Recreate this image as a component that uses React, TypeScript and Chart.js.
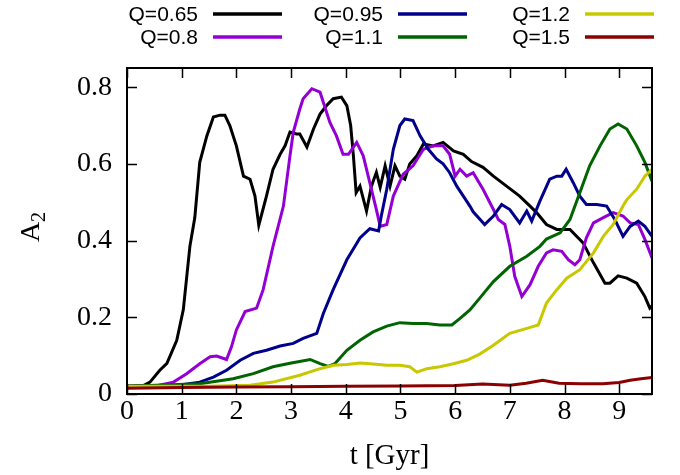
import { useEffect, useRef } from 'react';
import { Chart, registerables } from 'chart.js';

Chart.register(...registerables);

// ---- data (time in Gyr, amplitude A2) ----
const tQ065 = [0, 0.3, 0.42, 0.6, 0.73, 0.91, 1.03, 1.15, 1.24, 1.33, 1.46, 1.58, 1.7, 1.79, 1.88, 2.0, 2.13, 2.25, 2.34, 2.41, 2.55, 2.67, 2.8, 2.89, 2.98, 3.1, 3.16, 3.29, 3.41, 3.53, 3.65, 3.77, 3.92, 4.02, 4.09, 4.14, 4.19, 4.26, 4.38, 4.47, 4.56, 4.63, 4.72, 4.81, 4.9, 4.99, 5.08, 5.17, 5.3, 5.42, 5.6, 5.78, 5.97, 6.15, 6.3, 6.51, 6.7, 6.94, 7.18, 7.37, 7.49, 7.67, 7.86, 8.1, 8.34, 8.53, 8.74, 8.83, 8.98, 9.14, 9.32, 9.47, 9.56, 9.6];
const aQ065 = [0.02, 0.022, 0.031, 0.062, 0.08, 0.14, 0.22, 0.385, 0.46, 0.604, 0.673, 0.722, 0.727, 0.727, 0.7, 0.647, 0.568, 0.56, 0.516, 0.44, 0.516, 0.586, 0.625, 0.647, 0.683, 0.678, 0.678, 0.644, 0.691, 0.73, 0.752, 0.77, 0.774, 0.752, 0.7, 0.621, 0.525, 0.542, 0.477, 0.542, 0.578, 0.539, 0.595, 0.542, 0.595, 0.568, 0.56, 0.6, 0.621, 0.652, 0.647, 0.656, 0.634, 0.625, 0.606, 0.591, 0.568, 0.542, 0.516, 0.49, 0.473, 0.442, 0.429, 0.429, 0.394, 0.342, 0.289, 0.289, 0.308, 0.302, 0.289, 0.254, 0.224, 0.23];

const tQ08 = [0, 0.5, 0.85, 1.09, 1.33, 1.52, 1.64, 1.82, 1.91, 2.0, 2.16, 2.37, 2.49, 2.67, 2.86, 2.98, 3.04, 3.16, 3.22, 3.38, 3.53, 3.71, 3.83, 3.95, 4.05, 4.2, 4.32, 4.44, 4.56, 4.63, 4.75, 4.87, 5.05, 5.23, 5.42, 5.6, 5.78, 5.9, 6.0, 6.09, 6.21, 6.33, 6.51, 6.7, 6.79, 6.91, 7.0, 7.09, 7.22, 7.37, 7.52, 7.67, 7.79, 7.95, 8.07, 8.19, 8.28, 8.4, 8.53, 8.71, 8.89, 9.07, 9.2, 9.35, 9.47, 9.6];
const aQ08 = [0.02, 0.02, 0.031, 0.053, 0.079, 0.097, 0.099, 0.09, 0.123, 0.167, 0.215, 0.224, 0.272, 0.385, 0.49, 0.621, 0.682, 0.743, 0.77, 0.796, 0.787, 0.708, 0.673, 0.625, 0.625, 0.656, 0.621, 0.551, 0.481, 0.437, 0.442, 0.516, 0.573, 0.595, 0.638, 0.647, 0.647, 0.625, 0.568, 0.586, 0.568, 0.577, 0.534, 0.481, 0.455, 0.442, 0.385, 0.307, 0.254, 0.285, 0.333, 0.368, 0.376, 0.372, 0.35, 0.337, 0.35, 0.407, 0.446, 0.46, 0.473, 0.464, 0.446, 0.442, 0.403, 0.355];

const tQ095 = [0, 0.9, 1.33, 1.58, 1.82, 2.07, 2.31, 2.55, 2.8, 3.04, 3.22, 3.47, 3.59, 3.77, 4.02, 4.26, 4.44, 4.6, 4.65, 4.75, 4.87, 4.99, 5.08, 5.23, 5.36, 5.51, 5.66, 5.78, 5.9, 6.03, 6.15, 6.27, 6.33, 6.54, 6.7, 6.85, 7.0, 7.18, 7.31, 7.4, 7.55, 7.73, 7.86, 7.95, 8.03, 8.16, 8.28, 8.4, 8.59, 8.77, 8.92, 9.07, 9.2, 9.35, 9.47, 9.6];
const aQ095 = [0.02, 0.022, 0.031, 0.044, 0.062, 0.088, 0.106, 0.114, 0.125, 0.132, 0.145, 0.158, 0.21, 0.272, 0.35, 0.407, 0.431, 0.425, 0.464, 0.534, 0.638, 0.7, 0.717, 0.713, 0.673, 0.638, 0.613, 0.6, 0.577, 0.542, 0.516, 0.49, 0.475, 0.442, 0.464, 0.494, 0.481, 0.446, 0.477, 0.451, 0.503, 0.56, 0.568, 0.568, 0.586, 0.551, 0.516, 0.494, 0.494, 0.49, 0.455, 0.411, 0.437, 0.451, 0.437, 0.411];

const tQ11 = [0, 1.33, 1.94, 2.31, 2.67, 2.98, 3.35, 3.53, 3.68, 3.8, 4.02, 4.26, 4.5, 4.75, 4.99, 5.23, 5.48, 5.72, 5.94, 6.09, 6.27, 6.45, 6.7, 7.0, 7.31, 7.55, 7.67, 7.92, 8.1, 8.28, 8.46, 8.65, 8.83, 8.98, 9.14, 9.32, 9.47, 9.6];
const aQ11 = [0.02, 0.027, 0.04, 0.053, 0.071, 0.08, 0.09, 0.079, 0.072, 0.079, 0.114, 0.14, 0.162, 0.177, 0.186, 0.184, 0.184, 0.18, 0.18, 0.197, 0.219, 0.25, 0.293, 0.333, 0.359, 0.385, 0.404, 0.42, 0.455, 0.525, 0.595, 0.647, 0.691, 0.704, 0.691, 0.647, 0.604, 0.555];

const tQ12 = [0, 1.5, 2.25, 2.67, 3.16, 3.53, 3.77, 4.02, 4.26, 4.5, 4.75, 4.99, 5.17, 5.3, 5.48, 5.72, 5.97, 6.21, 6.45, 6.7, 7.0, 7.31, 7.52, 7.67, 7.86, 8.04, 8.28, 8.53, 8.71, 8.89, 9.07, 9.14, 9.32, 9.47, 9.6];
const aQ12 = [0.02, 0.02, 0.023, 0.031, 0.049, 0.066, 0.075, 0.077, 0.081, 0.078, 0.075, 0.075, 0.071, 0.057, 0.066, 0.071, 0.079, 0.088, 0.104, 0.127, 0.158, 0.171, 0.18, 0.237, 0.272, 0.302, 0.324, 0.368, 0.411, 0.442, 0.49, 0.507, 0.534, 0.568, 0.586];

const tQ15 = [0, 1, 2, 3, 4, 5, 6, 6.5, 7, 7.3, 7.6, 7.9, 8.3, 8.7, 9.0, 9.2, 9.4, 9.6];
const aQ15 = [0.015, 0.017, 0.018, 0.019, 0.02, 0.021, 0.022, 0.026, 0.023, 0.028, 0.036, 0.028, 0.027, 0.027, 0.03, 0.036, 0.04, 0.043];

const seriesLabels = ['Q=0.65', 'Q=0.8', 'Q=0.95', 'Q=1.1', 'Q=1.2', 'Q=1.5'];
const seriesTimes = [tQ065, tQ08, tQ095, tQ11, tQ12, tQ15];
const seriesValues = [aQ065, aQ08, aQ095, aQ11, aQ12, aQ15];
const seriesColors = ['#000000', '#9400d3', '#00008b', '#006400', '#c8c800', '#8b0000'];

const xTicks = [0, 1, 2, 3, 4, 5, 6, 7, 8, 9];
const yTicks = [0, 0.2, 0.4, 0.6, 0.8];
const xRange = [0, 9.6];
const yRange = [0, 0.85];

const SERIF = '"Liberation Serif", "DejaVu Serif", serif';
const SANS = '"Liberation Sans", Arial, sans-serif';

const framePlugin = {
  id: 'gnuFrame',
  afterDatasetsDraw(chart: any) {
    const { ctx, chartArea, scales } = chart;
    const { left, top, right, bottom } = chartArea;
    const xs = scales.x;
    const ys = scales.y;
    ctx.save();
    ctx.strokeStyle = '#000';
    ctx.lineWidth = 1.5;
    const tl = 10;
    ctx.beginPath();
    xTicks.forEach((v) => {
      const px = Math.round(xs.getPixelForValue(v)) + 0.5;
      ctx.moveTo(px, bottom);
      ctx.lineTo(px, bottom - tl);
      ctx.moveTo(px, top);
      ctx.lineTo(px, top + tl);
    });
    yTicks.forEach((v) => {
      const py = Math.round(ys.getPixelForValue(v)) + 0.5;
      ctx.moveTo(left, py);
      ctx.lineTo(left + tl, py);
      ctx.moveTo(right, py);
      ctx.lineTo(right - tl, py);
    });
    ctx.stroke();
    ctx.lineWidth = 2;
    ctx.strokeRect(left, top, right - left, bottom - top);

    // axis titles
    ctx.fillStyle = '#000';
    ctx.font = `29px ${SERIF}`;
    ctx.textAlign = 'center';
    ctx.textBaseline = 'middle';
    ctx.fillText('t [Gyr]', (left + right) / 2, 456);

    ctx.save();
    ctx.translate(30, (top + bottom) / 2 - 4);
    ctx.rotate(-Math.PI / 2);
    ctx.textAlign = 'left';
    ctx.textBaseline = 'alphabetic';
    ctx.font = `28px ${SERIF}`;
    const wA = ctx.measureText('A').width;
    ctx.font = `20px ${SERIF}`;
    const w2 = ctx.measureText('2').width;
    const start = -(wA + w2) / 2;
    ctx.font = `28px ${SERIF}`;
    ctx.fillText('A', start, 9);
    ctx.font = `20px ${SERIF}`;
    ctx.fillText('2', start + wA, 15);
    ctx.restore();

    ctx.restore();
  },
  afterDraw(chart: any) {
    const { ctx } = chart;
    const datasets = chart.data.datasets;
    const colLineStart = [213, 398, 585];
    const rowY = [14, 37];
    const lineLen = 69;
    const gap = 15;
    ctx.save();
    ctx.font = `21px ${SANS}`;
    ctx.textAlign = 'right';
    ctx.textBaseline = 'middle';
    datasets.forEach((ds: any, i: number) => {
      const col = Math.floor(i / 2);
      const row = i % 2;
      const x0 = colLineStart[col];
      const y0 = rowY[row];
      ctx.fillStyle = '#000';
      ctx.fillText(ds.label, x0 - gap, y0 + 1);
      ctx.strokeStyle = ds.borderColor;
      ctx.lineWidth = 3.5;
      ctx.beginPath();
      ctx.moveTo(x0, y0);
      ctx.lineTo(x0 + lineLen, y0);
      ctx.stroke();
    });
    ctx.restore();
  },
};

export default function App() {
  const canvasRef = useRef<HTMLCanvasElement | null>(null);

  useEffect(() => {
    if (!canvasRef.current) return;
    const datasets = seriesLabels.map((label, i) => ({
      label,
      data: seriesTimes[i].map((t, j) => ({ x: t, y: seriesValues[i][j] })),
      borderColor: seriesColors[i],
      backgroundColor: seriesColors[i],
      borderWidth: 3,
      pointRadius: 0,
      tension: 0,
      fill: false,
      order: seriesLabels.length - 1 - i,
    }));

    const chart = new Chart(canvasRef.current, {
      type: 'line',
      data: { datasets },
      options: {
        responsive: false,
        animation: false,
        layout: { padding: { top: 68, right: 28, left: 0, bottom: 0 } },
        plugins: {
          legend: { display: false },
          tooltip: { enabled: false },
          title: { display: false },
        },
        scales: {
          x: {
            type: 'linear',
            min: xRange[0],
            max: xRange[1],
            grid: { display: false, drawTicks: false },
            border: { display: false },
            ticks: {
              color: '#000',
              font: { family: SERIF, size: 28 },
              padding: 1,
              maxRotation: 0,
              autoSkip: false,
            },
            afterBuildTicks: (scale: any) => {
              scale.ticks = xTicks.map((v) => ({ value: v }));
            },
            afterFit: (scale: any) => {
              scale.height = 81;
            },
          },
          y: {
            type: 'linear',
            min: yRange[0],
            max: yRange[1],
            grid: { display: false, drawTicks: false },
            border: { display: false },
            ticks: {
              color: '#000',
              font: { family: SERIF, size: 28 },
              padding: 15,
              autoSkip: false,
              callback: (v: any) => String(Math.round(Number(v) * 10) / 10),
            },
            afterBuildTicks: (scale: any) => {
              scale.ticks = yTicks.map((v) => ({ value: v }));
            },
            afterFit: (scale: any) => {
              scale.width = 127;
            },
          },
        },
      },
      plugins: [framePlugin],
    });
    return () => chart.destroy();
  }, []);

  return (
    <div style={{ position: 'fixed', left: 0, top: 0, width: 680, height: 475, background: '#fff' }}>
      <canvas ref={canvasRef} width={680} height={475} style={{ width: 680, height: 475 }} />
    </div>
  );
}
